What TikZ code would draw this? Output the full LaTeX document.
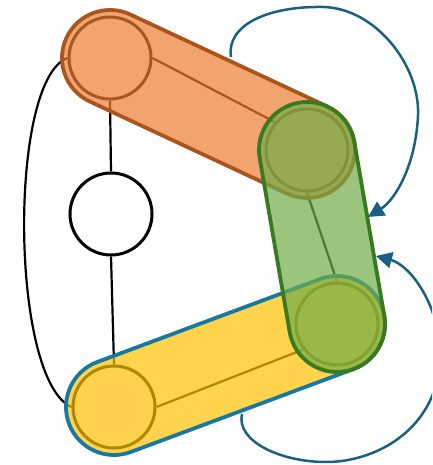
\documentclass[tikz,border=0pt]{standalone}
\usetikzlibrary{calc,arrows.meta}
\definecolor{orfill}{RGB}{237,125,49}
\definecolor{orline}{RGB}{172,84,30}
\definecolor{grfill}{RGB}{112,173,71}
\definecolor{grline}{RGB}{56,122,32}
\definecolor{yefill}{RGB}{255,192,0}
\definecolor{yeline}{RGB}{23,120,160}
\definecolor{arrblue}{RGB}{26,96,130}
\newcommand\hypercap[4]{%
  \path[#1] let \p1=($(#3)-(#2)$), \n1={atan2(\y1,\x1)} in
    ($(#2)+(\n1+90:#4)$) -- ($(#3)+(\n1+90:#4)$)
    arc[start angle=\n1+90, end angle=\n1-90, radius=#4]
    -- ($(#2)+(\n1-90:#4)$)
    arc[start angle=\n1-90, end angle=\n1-270, radius=#4] -- cycle;}
\tikzset{
  vtx/.style={circle, draw=black, line width=3pt, fill=white, minimum size=82pt, inner sep=0pt},
  edge/.style={draw=black, line width=2.2pt},
  orcap/.style={fill=orfill, fill opacity=0.7, draw=orline, draw opacity=1, line width=3.8pt},
  grcap/.style={fill=grfill, fill opacity=0.7, draw=grline, draw opacity=1, line width=3.8pt},
  yecap/.style={fill=yefill, fill opacity=0.7, draw=yeline, draw opacity=1, line width=3.8pt},
  harrow/.style={draw=arrblue, line width=2.5pt, -{Triangle[length=16pt,width=16pt]}}
}
\begin{document}
\begin{tikzpicture}[x=1pt,y=1pt]
\useasboundingbox (0,0) rectangle (432,465);
\begin{scope}
\clip (0,0) rectangle (432,465);
% vertices
\node[vtx] (A) at (110,407) {};
\node[vtx] (B) at (307,315) {};
\node[vtx] (C) at (111,251) {};
\node[vtx] (D) at (337,141) {};
\node[vtx] (E) at (114,58) {};
% edges
\draw[edge] (A.south) -- (C.north);
\draw[edge] (C.south) -- (E.north);
\draw[edge] (A.east) -- (B.139);
\draw[edge] (B.south) -- (D.north);
\draw[edge] (E.east) -- (D.217);
\draw[edge] (A.west) .. controls (8,385) and (10,85) .. (E.west);
% hyperedges
\hypercap{orcap}{A}{B}{48pt}
\hypercap{yecap}{E}{D}{48pt}
\hypercap{grcap}{B}{D}{48pt}
% arrows between hyperedges
\coordinate (s1) at (231,408);
\coordinate (t1) at (368,248);
\coordinate (s2) at (242,51);
\coordinate (t2) at (376,209);
\draw[harrow] (s1) .. controls (226,440) and (268,459) .. (323,458)
  .. controls (375,457) and (420,400) .. (418,350)
  .. controls (416,300) and (395,265) .. (t1);
\draw[harrow] (s2) .. controls (236,24) and (280,3) .. (326,3)
  .. controls (380,3) and (440,40) .. (440,110)
  .. controls (440,160) and (410,200) .. (t2);
\end{scope}
\end{tikzpicture}
\end{document}
